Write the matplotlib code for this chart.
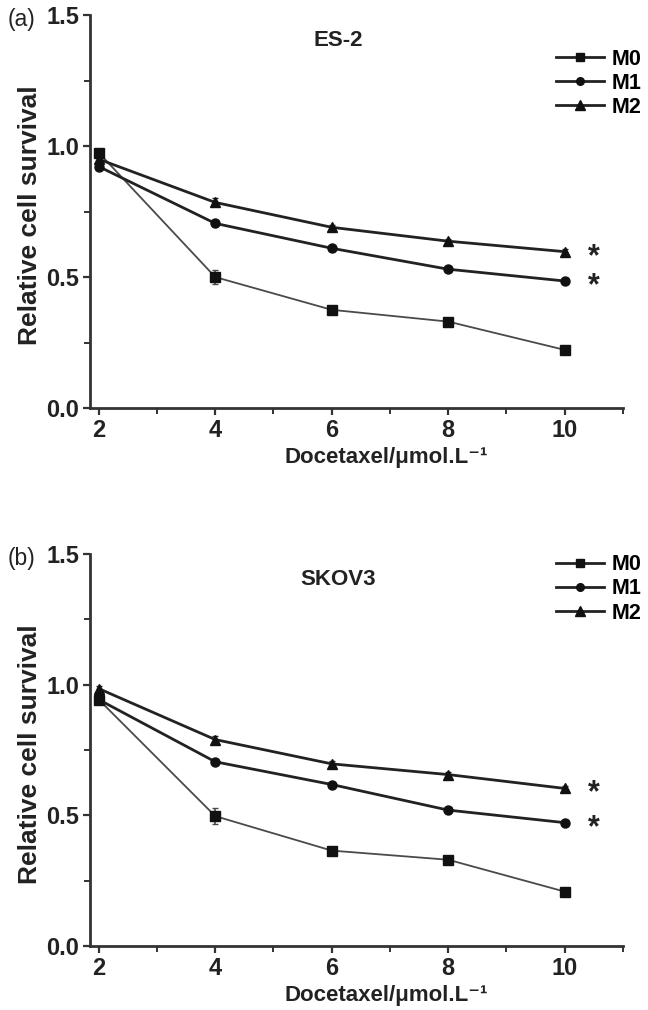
# Relative cell survival vs docetaxel, ES-2 and SKOV3 panels
import matplotlib
matplotlib.use("Agg")
import matplotlib.pyplot as plt
from matplotlib.lines import Line2D
from matplotlib.ticker import MultipleLocator

plt.rcParams['font.family'] = ['Liberation Sans', 'DejaVu Sans']

conc = [2, 4, 6, 8, 10]
series_names = ["M0", "M1", "M2"]

es2_m0 = [0.975, 0.50, 0.375, 0.33, 0.222]
es2_m1 = [0.922, 0.705, 0.61, 0.53, 0.485]
es2_m2 = [0.95, 0.785, 0.69, 0.637, 0.597]
es2_m0_err = [0.01, 0.028, 0.01, 0.01, 0.01]
es2_m1_err = [0.01, 0.01, 0.01, 0.01, 0.01]
es2_m2_err = [0.01, 0.015, 0.01, 0.01, 0.01]

skov_m0 = [0.943, 0.497, 0.365, 0.33, 0.208]
skov_m1 = [0.943, 0.705, 0.618, 0.52, 0.472]
skov_m2 = [0.985, 0.79, 0.697, 0.656, 0.603]
skov_m0_err = [0.01, 0.03, 0.01, 0.01, 0.01]
skov_m1_err = [0.01, 0.01, 0.01, 0.01, 0.01]
skov_m2_err = [0.01, 0.012, 0.01, 0.01, 0.01]

star_x = 10.5

fig = plt.figure(figsize=(6.48, 10.10), dpi=100)
ax_a = fig.add_axes([0.1389, 0.596, 0.8225, 0.389])
ax_b = fig.add_axes([0.1389, 0.0634, 0.8225, 0.388])

panels = [
    (ax_a, "(a)", "ES-2", [es2_m0, es2_m1, es2_m2], [es2_m0_err, es2_m1_err, es2_m2_err], 0.915),
    (ax_b, "(b)", "SKOV3", [skov_m0, skov_m1, skov_m2], [skov_m0_err, skov_m1_err, skov_m2_err], 1.0),
]

markers = ["s", "o", "^"]
msizes = [6.5, 6.5, 7.5]
colors = ["#4a4a4a", "#222222", "#222222"]
lwidths = [1.3, 2.0, 2.0]

for ax, tag, title, vals, errs, leg_y in panels:
    handles = []
    for v, e, m, ms, c, lw, name in zip(vals, errs, markers, msizes, colors, lwidths, series_names):
        ax.errorbar(conc, v, yerr=e, marker=m, ms=ms, color=c, mfc="#111111", mec="#111111",
                    lw=lw, elinewidth=1.2, capsize=2)
        handles.append(Line2D([], [], color="#222222", lw=2.0, marker=m, ms=ms - 1,
                              mfc="#111111", mec="#111111", label=name))
    # significance stars for M2 and M1
    ax.text(star_x, vals[2][-1] - 0.02, "*", ha="center", va="center", fontsize=22,
            fontweight="bold", color="#222222")
    ax.text(star_x, vals[1][-1] - 0.02, "*", ha="center", va="center", fontsize=22,
            fontweight="bold", color="#222222")

    ax.set_xlim(1.85, 11)
    ax.set_ylim(0, 1.5)
    ax.xaxis.set_minor_locator(MultipleLocator(1))
    ax.yaxis.set_minor_locator(MultipleLocator(0.25))
    ax.set_xticks(conc)
    ax.set_yticks([0, 0.5, 1.0, 1.5])
    ax.set_yticklabels(["0.0", "0.5", "1.0", "1.5"])
    for sp in ["top", "right"]:
        ax.spines[sp].set_visible(False)
    for sp in ["left", "bottom"]:
        ax.spines[sp].set_linewidth(2)
        ax.spines[sp].set_color("#333333")
    ax.tick_params(which="major", length=5, width=1.6, color="#333333", labelsize=17, pad=3)
    ax.tick_params(which="minor", length=4, width=1.4, color="#333333")
    for lab in ax.get_xticklabels() + ax.get_yticklabels():
        lab.set_fontweight("bold")
        lab.set_color("#222222")

    ax.set_ylabel("Relative cell survival", fontsize=19, fontweight="bold", color="#222222")
    ax.yaxis.set_label_coords(-0.09, 0.49)
    ax.set_xlabel("Docetaxel/μmol.L⁻¹", fontsize=16, fontweight="bold", color="#222222")
    ax.xaxis.set_label_coords(0.555, -0.1)

    ax.text(0.465, 0.935, title, transform=ax.transAxes, ha="center", va="center",
            fontsize=16, fontweight="bold", color="#222222")
    ax.text(-0.154, 0.99, tag, transform=ax.transAxes, ha="left", va="center",
            fontsize=16.5, color="#222222")

    ax.legend(handles=handles, loc="upper left", bbox_to_anchor=(0.875, leg_y), frameon=False,
              prop={"weight": "bold", "size": 15.5}, handlelength=2.2,
              handletextpad=0.35, labelspacing=0.15, borderpad=0, borderaxespad=0,
              numpoints=1)

fig.savefig("out.png", dpi=100)
